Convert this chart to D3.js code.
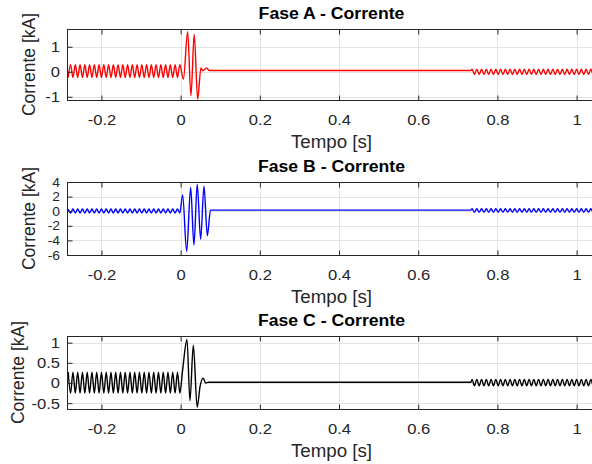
<!DOCTYPE html>
<html>
<head>
<meta charset="utf-8">
<script src="https://cdn.jsdelivr.net/npm/d3@7"></script>
<style>
  html, body { margin: 0; padding: 0; background: #ffffff; }
  svg { display: block; font-family: "Liberation Sans", Arial, Helvetica, sans-serif; }
</style>
</head>
<body>
<svg id="chart" width="592" height="464"></svg>
<script>
// ---- Time axis ----
const timeTicks = [-0.2, 0, 0.2, 0.4, 0.6, 0.8, 1];

// Extremum instants of the steady pre-fault oscillation (s)
const timePre = [
  -0.284, -0.278, -0.272, -0.266, -0.260, -0.254, -0.248, -0.242, -0.236, -0.230,
  -0.224, -0.218, -0.212, -0.206, -0.200, -0.194, -0.188, -0.182, -0.176, -0.170,
  -0.164, -0.158, -0.152, -0.146, -0.140, -0.134, -0.128, -0.122, -0.116, -0.110,
  -0.104, -0.098, -0.092, -0.086, -0.080, -0.074, -0.068, -0.062, -0.056, -0.050,
  -0.044, -0.038, -0.032, -0.026, -0.020, -0.014, -0.008, -0.002
];

// Extremum instants of the oscillation after reclosing (s)
const timePost = [
  0.736, 0.742, 0.748, 0.754, 0.760, 0.766, 0.772, 0.778, 0.784, 0.790,
  0.796, 0.802, 0.808, 0.814, 0.820, 0.826, 0.832, 0.838, 0.844, 0.850,
  0.856, 0.862, 0.868, 0.874, 0.880, 0.886, 0.892, 0.898, 0.904, 0.910,
  0.916, 0.922, 0.928, 0.934, 0.940, 0.946, 0.952, 0.958, 0.964, 0.970,
  0.976, 0.982, 0.988, 0.994, 1.000, 1.006, 1.012, 1.018, 1.024, 1.030,
  1.036, 1.042, 1.048
];

// ---- Fase A (kA) ----
const faseA_pre = [
  -0.23, 0.28, -0.23, 0.28, -0.23, 0.28, -0.23, 0.28, -0.23, 0.28,
  -0.23, 0.28, -0.23, 0.28, -0.23, 0.28, -0.23, 0.28, -0.23, 0.28,
  -0.23, 0.28, -0.23, 0.28, -0.23, 0.28, -0.23, 0.28, -0.23, 0.28,
  -0.23, 0.28, -0.23, 0.28, -0.23, 0.28, -0.23, 0.28, -0.23, 0.28,
  -0.23, 0.28, -0.23, 0.28, -0.23, 0.28, -0.23, 0.28
];
const faseA_faultT = [0.007, 0.0177, 0.026, 0.0343, 0.043, 0.0513, 0.056, 0.0657, 0.072, 0.733];
const faseA_faultV = [-0.30, 1.60, -0.96, 1.50, -1.09, 0.15, 0.04, 0.15, 0.05, 0.05];
const faseA_post = [
  0.10, -0.11, 0.10, -0.11, 0.10, -0.11, 0.10, -0.11, 0.10, -0.11,
  0.10, -0.11, 0.10, -0.11, 0.10, -0.11, 0.10, -0.11, 0.10, -0.11,
  0.10, -0.11, 0.10, -0.11, 0.10, -0.11, 0.10, -0.11, 0.10, -0.11,
  0.10, -0.11, 0.10, -0.11, 0.10, -0.11, 0.10, -0.11, 0.10, -0.11,
  0.10, -0.11, 0.10, -0.11, 0.10, -0.11, 0.10, -0.11, 0.10, -0.11,
  0.10, -0.11, 0.10
];

// ---- Fase B (kA) ----
const faseB_pre = [
  0.30, -0.25, 0.30, -0.25, 0.30, -0.25, 0.30, -0.25, 0.30, -0.25,
  0.30, -0.25, 0.30, -0.25, 0.30, -0.25, 0.30, -0.25, 0.30, -0.25,
  0.30, -0.25, 0.30, -0.25, 0.30, -0.25, 0.30, -0.25, 0.30, -0.25,
  0.30, -0.25, 0.30, -0.25, 0.30, -0.25, 0.30, -0.25, 0.30, -0.25,
  0.30, -0.25, 0.30, -0.25, 0.30, -0.25, 0.30, -0.25
];
const faseB_faultT = [0.005, 0.0152, 0.0253, 0.0336, 0.0419, 0.0505, 0.059, 0.0674, 0.0755, 0.733];
const faseB_faultV = [2.24, -5.50, 3.26, -4.65, 3.71, -3.85, 3.42, -3.36, 0.15, 0.15];
const faseB_post = [
  0.33, -0.15, 0.33, -0.15, 0.33, -0.15, 0.33, -0.15, 0.33, -0.15,
  0.33, -0.15, 0.33, -0.15, 0.33, -0.15, 0.33, -0.15, 0.33, -0.15,
  0.33, -0.15, 0.33, -0.15, 0.33, -0.15, 0.33, -0.15, 0.33, -0.15,
  0.33, -0.15, 0.33, -0.15, 0.33, -0.15, 0.33, -0.15, 0.33, -0.15,
  0.33, -0.15, 0.33, -0.15, 0.33, -0.15, 0.33, -0.15, 0.33, -0.15,
  0.33, -0.15, 0.33
];

// ---- Fase C (kA) ----
const faseC_pre = [
  0.27, -0.25, 0.27, -0.25, 0.27, -0.25, 0.27, -0.25, 0.27, -0.25,
  0.27, -0.25, 0.27, -0.25, 0.27, -0.25, 0.27, -0.25, 0.27, -0.25,
  0.27, -0.25, 0.27, -0.25, 0.27, -0.25, 0.27, -0.25, 0.27, -0.25,
  0.27, -0.25, 0.27, -0.25, 0.27, -0.25, 0.27, -0.25, 0.27, -0.25,
  0.27, -0.25, 0.27, -0.25, 0.27, -0.25, 0.27, -0.25
];
const faseC_faultT = [0.005, 0.016, 0.0235, 0.032, 0.0418, 0.049, 0.057, 0.063, 0.070, 0.733];
const faseC_faultV = [0.32, 1.08, -0.44, 0.94, -0.60, -0.09, 0.12, 0.00, 0.02, 0.02];
const faseC_post = [
  0.09, -0.07, 0.09, -0.07, 0.09, -0.07, 0.09, -0.07, 0.09, -0.07,
  0.09, -0.07, 0.09, -0.07, 0.09, -0.07, 0.09, -0.07, 0.09, -0.07,
  0.09, -0.07, 0.09, -0.07, 0.09, -0.07, 0.09, -0.07, 0.09, -0.07,
  0.09, -0.07, 0.09, -0.07, 0.09, -0.07, 0.09, -0.07, 0.09, -0.07,
  0.09, -0.07, 0.09, -0.07, 0.09, -0.07, 0.09, -0.07, 0.09, -0.07,
  0.09, -0.07, 0.09
];

const titles = ["Fase A - Corrente", "Fase B - Corrente", "Fase C - Corrente"];
const yDomains = [[-1.13, 1.71], [-6, 4], [-0.645, 1.165]];
const yTicks = [[-1, 0, 1], [-6, -4, -2, 0, 2, 4], [-0.5, 0, 0.5, 1]];
const colors = ["#ff0000", "#0000ff", "#000000"];

// ---- Layout ----
const svg = d3.select("#chart");
const X0 = 67, X1 = 596;
const panelBox = [[29, 100], [182, 255], [336, 409]];
const yLabelX = [35, 35, 24];
const yTickFont = ["15.5px", "13px", "15.5px"];
const textColor = "#262626";
const stretch = "scale(1.07,1)";

const x = d3.scaleLinear().domain([-0.287, 1.049]).range([X0, X1]);

function joinSeries(pre, fT, fV, post) {
  const pts = [];
  timePre.forEach((t, i) => pts.push([t, pre[i]]));
  fT.forEach((t, i) => pts.push([t, fV[i]]));
  timePost.forEach((t, i) => pts.push([t, post[i]]));
  return pts;
}

const series = [
  joinSeries(faseA_pre, faseA_faultT, faseA_faultV, faseA_post),
  joinSeries(faseB_pre, faseB_faultT, faseB_faultV, faseB_post),
  joinSeries(faseC_pre, faseC_faultT, faseC_faultV, faseC_post)
];

panelBox.forEach(([top, bottom], k) => {
  const y = d3.scaleLinear().domain(yDomains[k]).range([bottom, top]);
  const g = svg.append("g");

  // plot background
  g.append("rect")
    .attr("x", X0).attr("y", top)
    .attr("width", X1 - X0).attr("height", bottom - top)
    .attr("fill", "#ffffff");

  // grid
  g.append("g").selectAll("line").data(timeTicks).join("line")
    .attr("x1", d => Math.round(x(d)) + 0.5).attr("x2", d => Math.round(x(d)) + 0.5)
    .attr("y1", top).attr("y2", bottom)
    .attr("stroke", "#e3e3e3").attr("stroke-width", 1);
  g.append("g").selectAll("line").data(yTicks[k]).join("line")
    .attr("x1", X0).attr("x2", X1)
    .attr("y1", d => Math.round(y(d)) + 0.5).attr("y2", d => Math.round(y(d)) + 0.5)
    .attr("stroke", "#e3e3e3").attr("stroke-width", 1);

  // clipped current trace
  const clipId = "clip" + k;
  svg.append("clipPath").attr("id", clipId)
    .append("rect").attr("x", X0).attr("y", top)
    .attr("width", X1 - X0).attr("height", bottom - top);

  const line = d3.line()
    .x(d => x(d[0])).y(d => y(d[1]))
    .curve(d3.curveMonotoneX);

  g.append("path")
    .datum(series[k])
    .attr("clip-path", `url(#${clipId})`)
    .attr("d", line)
    .attr("fill", "none")
    .attr("stroke", colors[k])
    .attr("stroke-width", 1.4)
    .attr("stroke-linejoin", "round");

  // axes (MATLAB-like inward ticks)
  const fmt = d => String(d);
  const xb = g.append("g").attr("transform", `translate(0,${bottom + 0.5})`)
    .call(d3.axisBottom(x).tickValues(timeTicks).tickFormat(fmt)
      .tickSizeInner(-5).tickSizeOuter(0).tickPadding(13.5));
  const xt = g.append("g").attr("transform", `translate(0,${top + 0.5})`)
    .call(d3.axisTop(x).tickValues(timeTicks).tickFormat("")
      .tickSizeInner(-5).tickSizeOuter(0));
  const yl = g.append("g").attr("transform", `translate(${X0 + 0.5},0)`)
    .call(d3.axisLeft(y).tickValues(yTicks[k]).tickFormat(fmt)
      .tickSizeInner(-5).tickSizeOuter(0).tickPadding(7));

  [xb, xt, yl].forEach(a => {
    a.select(".domain").remove();
    a.selectAll(".tick line").attr("stroke", textColor);
    a.selectAll("text")
      .attr("fill", textColor)
      .attr("font-size", "15.5px")
      .attr("font-family", "'Liberation Sans', Arial, sans-serif")
      .attr("transform", stretch);
  });
  yl.selectAll("text").attr("font-size", yTickFont[k]);

  // box
  g.append("rect")
    .attr("x", X0 + 0.5).attr("y", top + 0.5)
    .attr("width", X1 - X0).attr("height", bottom - top)
    .attr("fill", "none").attr("stroke", textColor).attr("stroke-width", 1);

  const cx = (X0 + X1) / 2;

  // title
  g.append("g").attr("transform", `translate(${cx},${top - 10}) ${stretch}`)
    .append("text")
    .attr("text-anchor", "middle")
    .attr("font-size", "16.5px").attr("font-weight", "bold")
    .attr("fill", "#000000")
    .text(titles[k]);

  // x label
  g.append("g").attr("transform", `translate(${cx},${bottom + 48}) ${stretch}`)
    .append("text")
    .attr("text-anchor", "middle")
    .attr("font-size", "17.5px")
    .attr("fill", textColor)
    .text("Tempo [s]");

  // y label
  g.append("text")
    .attr("transform", `translate(${yLabelX[k]},${(top + bottom) / 2}) rotate(-90)`)
    .attr("text-anchor", "middle")
    .attr("font-size", "17.5px")
    .attr("fill", textColor)
    .text("Corrente [kA]");
});
</script>
</body>
</html>
